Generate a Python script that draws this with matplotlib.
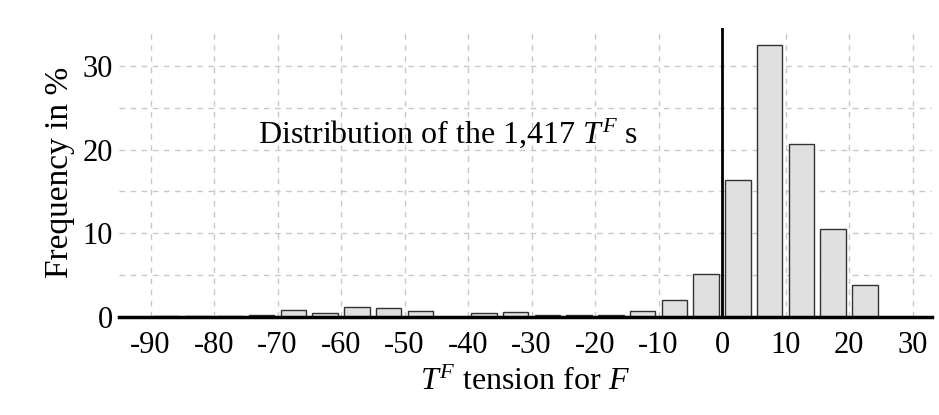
import numpy as np
import matplotlib
matplotlib.use("Agg")
import matplotlib.pyplot as plt

plt.rcParams['font.family'] = 'Liberation Serif'
plt.rcParams['mathtext.fontset'] = 'custom'
plt.rcParams['mathtext.rm'] = 'Liberation Serif'
plt.rcParams['mathtext.it'] = 'Liberation Serif:italic'

# bin centres of the 5-wide tension bins, and frequency in %
bin_centers = [-87.5, -82.5, -77.5, -72.5, -67.5, -62.5, -57.5, -52.5, -47.5,
               -42.5, -37.5, -32.5, -27.5, -22.5, -17.5, -12.5, -7.5, -2.5,
               2.5, 7.5, 12.5, 17.5, 22.5]
freq = [0.1, 0.1, 0.15, 0.3, 0.9, 0.45, 1.2, 1.1, 0.7,
        0.0, 0.5, 0.65, 0.3, 0.2, 0.2, 0.7, 2.0, 5.2,
        16.4, 32.5, 20.7, 10.5, 3.8]
x_ticks = list(range(-90, 31, 10))
y_ticks = [0, 10, 20, 30]

fig = plt.figure(figsize=(9.39, 4.15), dpi=100)
ax = fig.add_axes([0.1265, 0.236, 0.8656, 0.696])

ax.bar(bin_centers, freq, width=4, color='#e0e0e0', edgecolor='#333333',
       linewidth=1, zorder=3)

ax.set_xlim(-95, 33)
ax.set_ylim(0, 34.5)
ax.set_xticks(x_ticks)
ax.set_xticklabels([str(t) for t in x_ticks])
ax.set_yticks(y_ticks)
ax.tick_params(axis='both', which='both', length=0, labelsize=22)
ax.tick_params(axis='x', pad=10)
ax.tick_params(axis='y', pad=4)

for y in range(5, 35, 5):
    ax.axhline(y, color='#c8c8c8', lw=1, ls=(0, (4, 4)), zorder=1)
for x in x_ticks:
    if x != 0:
        ax.axvline(x, ymax=0.99, color='#c8c8c8', lw=1, ls=(0, (4, 4)), zorder=1)

ax.axvline(0, color='black', lw=2, zorder=4)

for s in ['top', 'right', 'left']:
    ax.spines[s].set_visible(False)
ax.spines['bottom'].set_linewidth(2.5)
ax.spines['bottom'].set_zorder(5)

ax.set_ylabel('Frequency in %', fontsize=24, labelpad=6)
ax.set_xlabel('$T^F$ tension for $F$', fontsize=23, labelpad=6)

ax.text(-73, 22, 'Distribution of the 1,417 $T^F$ s', fontsize=23,
        ha='left', va='center', zorder=6)

fig.savefig('out.png', dpi=100, facecolor='white')
